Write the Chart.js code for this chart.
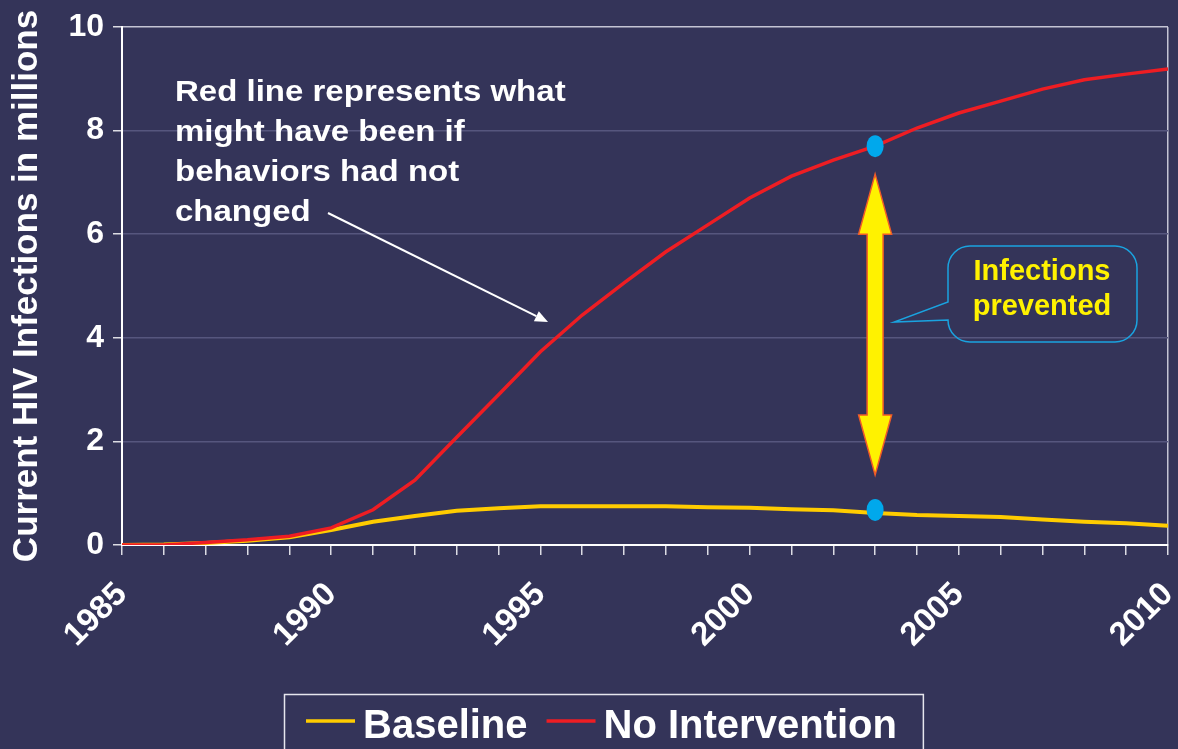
<!DOCTYPE html>
<html>
<head>
<meta charset="utf-8">
<title>Current HIV Infections</title>
<script src="https://cdn.jsdelivr.net/npm/chart.js@4.4.1/dist/chart.umd.min.js"></script>
<style>
  html, body { margin: 0; padding: 0; background: #343459; }
  #wrap { width: 1178px; height: 749px; overflow: hidden; }
  canvas { display: block; }
</style>
</head>
<body>
<div id="wrap"><canvas id="chart" width="1178" height="749"></canvas></div>
<script>
// Years on the horizontal axis
const years = [1985, 1986, 1987, 1988, 1989, 1990, 1991, 1992, 1993, 1994, 1995, 1996, 1997,
               1998, 1999, 2000, 2001, 2002, 2003, 2004, 2005, 2006, 2007, 2008, 2009, 2010];

// Current infections, millions
const baseline = [0.00, 0.01, 0.04, 0.08, 0.15, 0.29, 0.45, 0.56, 0.66, 0.71, 0.75, 0.75, 0.75,
                  0.75, 0.73, 0.72, 0.69, 0.67, 0.62, 0.58, 0.56, 0.54, 0.49, 0.45, 0.42, 0.37];
const noIntervention = [0.00, 0.00, 0.05, 0.10, 0.17, 0.33, 0.68, 1.25, 2.08, 2.90, 3.73, 4.44, 5.06,
                        5.66, 6.18, 6.70, 7.12, 7.43, 7.70, 8.05, 8.34, 8.57, 8.80, 8.98, 9.09, 9.19];

const seriesNames = ['Baseline', 'No Intervention'];
const seriesColors = ['#FFCC00', '#EE1D23'];

const yTickValues = [0, 2, 4, 6, 8, 10];
const xLabelYears = [1985, 1990, 1995, 2000, 2005, 2010];

const yAxisTitle = 'Current HIV Infections in millions';
const noteLines = ['Red line represents what', 'might have been if', 'behaviors had not', 'changed'];
const calloutLines = ['Infections', 'prevented'];
const markYear = 2003;

const FONT = '"Liberation Sans", Arial, Helvetica, sans-serif';
const BG = '#343459';

function boldFont(size) { return 'bold ' + size + 'px ' + FONT; }

const decorations = {
  id: 'decorations',
  beforeDraw(chart) {
    const ctx = chart.ctx;
    ctx.save();
    ctx.fillStyle = BG;
    ctx.fillRect(0, 0, chart.width, chart.height);
    ctx.restore();
  },
  afterDatasetsDraw(chart) {
    const ctx = chart.ctx;
    const xs = chart.scales.x, ys = chart.scales.y;
    const i = years.indexOf(markYear);
    const cx = xs.getPixelForValue(markYear);
    const yTop = ys.getPixelForValue(noIntervention[i]);
    const yBot = ys.getPixelForValue(baseline[i]);

    ctx.save();

    // markers where the gap is measured
    ctx.fillStyle = '#00A8EC';
    [yTop, yBot - 3].forEach(y => {
      ctx.beginPath();
      ctx.ellipse(cx, y, 8.5, 11, 0, 0, Math.PI * 2);
      ctx.fill();
    });

    // double-headed arrow spanning the gap
    const tipT = yTop + 28, tipB = yBot - 38;
    const hl = 60, hw = 16.5, sw = 8;
    ctx.beginPath();
    ctx.moveTo(cx, tipT);
    ctx.lineTo(cx + hw, tipT + hl);
    ctx.lineTo(cx + sw, tipT + hl);
    ctx.lineTo(cx + sw, tipB - hl);
    ctx.lineTo(cx + hw, tipB - hl);
    ctx.lineTo(cx, tipB);
    ctx.lineTo(cx - hw, tipB - hl);
    ctx.lineTo(cx - sw, tipB - hl);
    ctx.lineTo(cx - sw, tipT + hl);
    ctx.lineTo(cx - hw, tipT + hl);
    ctx.closePath();
    ctx.fillStyle = '#FFF200';
    ctx.fill();
    ctx.strokeStyle = '#F05A28';
    ctx.lineWidth = 1.5;
    ctx.stroke();

    // speech-bubble callout
    const x0 = 948, y0 = 246, x1 = 1137, y1 = 342, r = 22;
    const tipX = cx + 19, tipY = 322;
    ctx.beginPath();
    ctx.moveTo(x0 + r, y0);
    ctx.lineTo(x1 - r, y0);
    ctx.arcTo(x1, y0, x1, y0 + r, r);
    ctx.lineTo(x1, y1 - r);
    ctx.arcTo(x1, y1, x1 - r, y1, r);
    ctx.lineTo(x0 + r, y1);
    ctx.arcTo(x0, y1, x0, y1 - r, r);
    ctx.lineTo(tipX, tipY);
    ctx.lineTo(x0, 302);
    ctx.lineTo(x0, y0 + r);
    ctx.arcTo(x0, y0, x0 + r, y0, r);
    ctx.closePath();
    ctx.strokeStyle = '#1AA3E0';
    ctx.lineWidth = 1.5;
    ctx.stroke();

    ctx.fillStyle = '#FFF200';
    ctx.font = boldFont(29);
    ctx.textAlign = 'center';
    ctx.textBaseline = 'alphabetic';
    ctx.fillText(calloutLines[0], 1042, 280);
    ctx.fillText(calloutLines[1], 1042, 315);

    // explanatory note with pointer to the red line
    ctx.fillStyle = '#FFFFFF';
    ctx.font = boldFont(30);
    ctx.textAlign = 'left';
    noteLines.forEach((line, k) => {
      ctx.save();
      ctx.translate(175, 101 + k * 40);
      ctx.scale(1.1, 1);
      ctx.fillText(line, 0, 0);
      ctx.restore();
    });

    const ax0 = 328, ay0 = 213, ax1 = 548, ay1 = 322;
    const ang = Math.atan2(ay1 - ay0, ax1 - ax0);
    const al = 13, aw = 5.5;
    const bx = ax1 - al * Math.cos(ang), by = ay1 - al * Math.sin(ang);
    ctx.strokeStyle = '#FFFFFF';
    ctx.lineWidth = 2;
    ctx.beginPath();
    ctx.moveTo(ax0, ay0);
    ctx.lineTo(bx, by);
    ctx.stroke();
    ctx.beginPath();
    ctx.moveTo(ax1, ay1);
    ctx.lineTo(bx + aw * Math.sin(ang), by - aw * Math.cos(ang));
    ctx.lineTo(bx - aw * Math.sin(ang), by + aw * Math.cos(ang));
    ctx.closePath();
    ctx.fillStyle = '#FFFFFF';
    ctx.fill();

    ctx.restore();
  },
  afterDraw(chart) {
    // boxed legend with line samples
    const ctx = chart.ctx;
    ctx.save();
    ctx.font = boldFont(40);
    ctx.textBaseline = 'alphabetic';
    ctx.textAlign = 'left';
    const startX = 306, lineY = 721, textY = 738, sample = 49, gap = 8, itemGap = 19;
    let x = startX;
    const items = chart.data.datasets.map(ds => ({ label: ds.label, color: ds.borderColor }));
    items.forEach((it, k) => {
      ctx.strokeStyle = it.color;
      ctx.lineWidth = 3.5;
      ctx.beginPath();
      ctx.moveTo(x, lineY);
      ctx.lineTo(x + sample, lineY);
      ctx.stroke();
      x += sample + gap;
      ctx.fillStyle = '#FFFFFF';
      ctx.fillText(it.label, x, textY);
      x += ctx.measureText(it.label).width;
      if (k < items.length - 1) x += itemGap;
    });
    ctx.strokeStyle = '#E6E6EE';
    ctx.lineWidth = 1.5;
    ctx.strokeRect(startX - 22 + 0.5, 694.5, (x + 26) - (startX - 22), 80);
    ctx.restore();
  }
};

new Chart(document.getElementById('chart'), {
  type: 'line',
  data: {
    datasets: [
      {
        label: seriesNames[0],
        data: years.map((yr, k) => ({ x: yr, y: baseline[k] })),
        borderColor: seriesColors[0],
        borderWidth: 4,
        order: 1
      },
      {
        label: seriesNames[1],
        data: years.map((yr, k) => ({ x: yr, y: noIntervention[k] })),
        borderColor: seriesColors[1],
        borderWidth: 3.5,
        order: 0
      }
    ]
  },
  options: {
    responsive: false,
    animation: false,
    devicePixelRatio: 1,
    layout: { padding: { top: 27, right: 10, left: 0, bottom: 0 } },
    elements: { point: { radius: 0 }, line: { tension: 0, fill: false } },
    plugins: { legend: { display: false }, tooltip: { enabled: false } },
    scales: {
      x: {
        type: 'linear',
        min: years[0],
        max: years[years.length - 1],
        ticks: {
          stepSize: 1,
          autoSkip: false,
          minRotation: 45,
          maxRotation: 45,
          color: '#FFFFFF',
          font: { family: FONT, size: 33, weight: 'bold' },
          padding: 20,
          callback: v => (xLabelYears.includes(v) ? String(v) : '')
        },
        grid: {
          drawOnChartArea: true,
          color: c => (c.tick && c.tick.value === years[years.length - 1] ? '#C4C4D4' : 'rgba(0,0,0,0)'),
          tickColor: '#DCDCE4',
          tickLength: 10,
          lineWidth: 1.5
        },
        border: { color: '#FFFFFF', width: 2 },
        afterFit: s => { s.height = 204; s.paddingLeft = 0; s.paddingRight = 0; }
      },
      y: {
        min: 0,
        max: 10,
        afterBuildTicks: s => { s.ticks = yTickValues.map(v => ({ value: v })); },
        ticks: { color: '#FFFFFF', font: { family: FONT, size: 32, weight: 'bold' }, padding: 9 },
        grid: {
          color: c => (c.tick && c.tick.value === 10 ? '#C4C4D4' : '#56567E'),
          tickColor: '#DCDCE4',
          tickLength: 9,
          lineWidth: 1.5
        },
        border: { color: '#FFFFFF', width: 2 },
        title: {
          display: true,
          text: yAxisTitle,
          color: '#FFFFFF',
          font: { family: FONT, size: 35, weight: 'bold' },
          padding: { top: 6, bottom: 0 }
        },
        afterFit: s => { s.width = 122; s.paddingTop = 0; s.paddingBottom = 0; }
      }
    }
  },
  plugins: [decorations]
});
</script>
</body>
</html>
